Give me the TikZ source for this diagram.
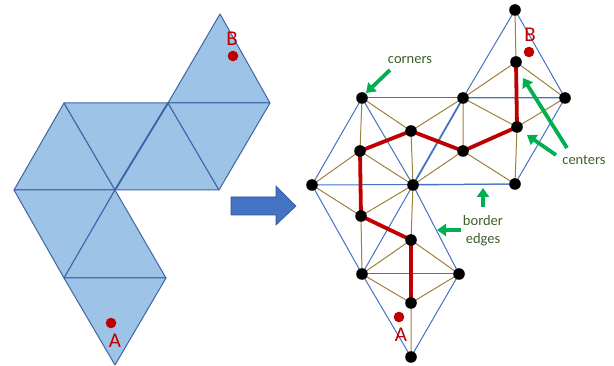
\documentclass[tikz,border=0pt]{standalone}
\usepackage{fontspec}
\setmainfont{Carlito}
\usetikzlibrary{arrows.meta}
\definecolor{netfill}{HTML}{9DC3E6}
\definecolor{netline}{HTML}{3E64A6}
\definecolor{bordblue}{HTML}{4472C4}
\definecolor{brownline}{HTML}{A0803A}
\definecolor{pathred}{HTML}{C00000}
\definecolor{labred}{HTML}{C00000}
\definecolor{arrgreen}{HTML}{00B050}
\definecolor{txtgreen}{HTML}{3B6129}
\definecolor{blockblue}{HTML}{4472C4}
\definecolor{blockedge}{HTML}{2F5597}
\tikzset{
  nettri/.style={fill=netfill, draw=netline, line width=1pt, line join=round},
  bordedge/.style={draw=bordblue, line width=1pt},
  spoke/.style={draw=brownline, line width=1pt},
  redpath/.style={draw=pathred, line width=3.8pt, line cap=round},
  vdot/.style={fill=black},
  ptdot/.style={fill=labred},
  letter/.style={text=labred, font=\fontsize{21}{21}\selectfont, inner sep=0pt},
  note/.style={text=txtgreen, font=\fontsize{14.5}{18}\selectfont, inner sep=0pt, align=center},
  garrow/.style={draw=arrgreen, line width=3.8pt, -{Triangle[length=9pt,width=12pt]}},
}
\begin{document}
\begin{tikzpicture}[x=1pt,y=-1pt]
\useasboundingbox (0,0) rectangle (614,366);
% ---------- left net ----------
\coordinate (L1) at (220,14);
\coordinate (L2) at (64,103);
\coordinate (L3) at (168,103);
\coordinate (L4) at (270,103);
\coordinate (L5) at (14,190);
\coordinate (L6) at (115,190);
\coordinate (L7) at (219,190);
\coordinate (L8) at (64,278);
\coordinate (L9) at (166,278);
\coordinate (L10) at (115,365);
\filldraw[nettri] (L3) -- (L1) -- (L4) -- cycle;
\filldraw[nettri] (L5) -- (L2) -- (L6) -- cycle;
\filldraw[nettri] (L2) -- (L3) -- (L6) -- cycle;
\filldraw[nettri] (L6) -- (L3) -- (L7) -- cycle;
\filldraw[nettri] (L3) -- (L4) -- (L7) -- cycle;
\filldraw[nettri] (L5) -- (L6) -- (L8) -- cycle;
\filldraw[nettri] (L8) -- (L6) -- (L9) -- cycle;
\filldraw[nettri] (L8) -- (L9) -- (L10) -- cycle;
\draw[netline, line width=1.8pt] (L6) -- (L3);
\coordinate (LB) at (233,56);
\coordinate (LA) at (111,323);
\fill[ptdot] (LB) circle[radius=5.3pt];
\fill[ptdot] (LA) circle[radius=5.3pt];
\node[letter] (lbB) at (232,39) {B};
\node[letter] (lbA) at (115,341) {A};
% ---------- block arrow ----------
\filldraw[fill=blockblue, draw=blockedge, line width=0.6pt, line join=miter]
  (231,197) -- (276,197) -- (276,186) -- (296,206) -- (276,225) -- (276,215) -- (231,215) -- cycle;
% ---------- right mesh ----------
\coordinate (R1) at (515,10);
\coordinate (R2) at (362,98);
\coordinate (R3) at (463,98);
\coordinate (R4) at (565,98);
\coordinate (R5) at (312,185);
\coordinate (R6) at (413,185);
\coordinate (R7) at (515,184);
\coordinate (R8) at (362,274);
\coordinate (R9) at (459,274);
\coordinate (R10) at (411,357);
\coordinate (M1) at (516,62);
\coordinate (M2) at (517,127);
\coordinate (M3) at (463,151);
\coordinate (M4) at (411,131);
\coordinate (M5) at (360,151);
\coordinate (M6) at (361,216);
\coordinate (M7) at (411,240);
\coordinate (M8) at (411,303);
% border edges
\draw[bordedge] (R3) -- (R1) -- (R4) -- (R3);
\draw[bordedge] (R2) -- (R4);
\draw[bordedge] (R5) -- (R7);
\draw[bordedge] (R8) -- (R9);
\draw[bordedge] (R5) -- (R2) -- (R6);
\draw[bordedge] (R6) -- (R7) -- (R4);
\draw[bordedge] (R5) -- (R8) -- (R6) -- (R9) -- (R10) -- (R8);
\draw[bordedge, line width=1.8pt] (R6) -- (R3);
% spokes
\draw[spoke] (M1) -- (R1) (M1) -- (R3) (M1) -- (R4);
\draw[spoke] (M2) -- (R3) (M2) -- (R4) (M2) -- (R7);
\draw[spoke] (M3) -- (R6) (M3) -- (R3) (M3) -- (R7);
\draw[spoke] (M4) -- (R2) (M4) -- (R3) (M4) -- (R6);
\draw[spoke] (M5) -- (R5) (M5) -- (R2) (M5) -- (R6);
\draw[spoke] (M6) -- (R5) (M6) -- (R6) (M6) -- (R8);
\draw[spoke] (M7) -- (R8) (M7) -- (R6) (M7) -- (R9);
\draw[spoke] (M8) -- (R8) (M8) -- (R9) (M8) -- (R10);
% red path
\draw[redpath] (M1) -- (M2) -- (M3) -- (M4) -- (M5) -- (M6) -- (M7) -- (M8);
% dots
\foreach \p in {R1,R2,R3,R4,R5,R6,R7,R8,R9,R10,M1,M2,M3,M4,M5,M6,M7,M8}
  \fill[vdot] (\p) circle[radius=5.8pt];
\coordinate (RB) at (529,52);
\coordinate (RA) at (399,317);
\fill[ptdot] (RB) circle[radius=5.3pt];
\fill[ptdot] (RA) circle[radius=5.3pt];
\node[letter] (rbB) at (530,35) {B};
\node[letter] (rbA) at (401,335) {A};
% annotations
\node[note] (tcorn) at (410,60) {corners};
\node[note] (tcent) at (584,160) {centers};
\node[note] (tbord) at (483,231) {border\\edges};
\coordinate (c1s) at (390,70);
\coordinate (c1e) at (366,93);
\coordinate (c2s) at (567,148);
\coordinate (c2e) at (523,78);
\coordinate (c3s) at (556,155);
\coordinate (c3e) at (527,135);
\coordinate (c4s) at (483,207);
\coordinate (c4e) at (483,188);
\coordinate (c5s) at (461,230);
\coordinate (c5e) at (437,230);
\draw[garrow] (c1s) -- (c1e);
\draw[garrow] (c2s) -- (c2e);
\draw[garrow] (c3s) -- (c3e);
\draw[garrow] (c4s) -- (c4e);
\draw[garrow] (c5s) -- (c5e);
\end{tikzpicture}
\end{document}
